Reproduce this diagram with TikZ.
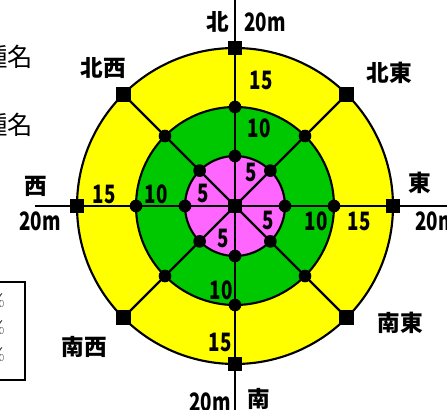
\documentclass[tikz,border=0pt]{standalone}
\usepackage{fontspec}
\newfontfamily\cjk{Noto Sans CJK JP}
\newfontfamily\cjkn{Noto Sans CJK JP}[FakeStretch=0.74]
\usetikzlibrary{calc}
\pgfdeclarelayer{bg}
\pgfdeclarelayer{mid}
\pgfsetlayers{bg,mid,main}
\definecolor{ringY}{RGB}{255,255,0}
\definecolor{ringG}{RGB}{0,200,0}
\definecolor{ringP}{RGB}{255,102,255}
\begin{document}
\begin{tikzpicture}[x=0.75pt,y=-0.75pt,
  ln/.style={line width=1.6pt},
  sqm/.style={rectangle,fill=black,minimum size=11pt,inner sep=0pt},
  dotm/.style={circle,fill=black,minimum size=9.5pt,inner sep=0pt},
  num/.style={font=\cjkn\bfseries\fontsize{19}{19}\selectfont,inner sep=0pt},
  kj/.style={font=\cjk\bfseries\fontsize{17}{17}\selectfont,inner sep=0pt},
  side/.style={font=\cjk\fontsize{19}{19}\selectfont,inner sep=0pt,anchor=east},
  pct/.style={font=\fontsize{13}{13}\selectfont,inner sep=0pt,anchor=east}]
\useasboundingbox (0,0) rectangle (447,410);
\clip (0,0) rectangle (447,410);
\node[sqm] (C) at (235,206) {};
\foreach \n/\a in {E/0,SE/45,S/90,SW/135,W/180,NW/225,N/270,NE/315}{
  \node[sqm] (\n20) at ([shift={(\a:158)}]C) {};
  \node[dotm] (\n10) at ([shift={(\a:99)}]C) {};
  \node[dotm] (\n5) at ([shift={(\a:50)}]C) {};
}
\begin{pgfonlayer}{bg}
  \draw[ln,fill=ringY] (C.center) circle[radius=158];
  \draw[ln,fill=ringG] (C.center) circle[radius=99];
  \draw[ln,fill=ringP] (C.center) circle[radius=50];
\end{pgfonlayer}
\coordinate (Ntip) at (235,-5);
\coordinate (Stip) at (235,415);
\coordinate (Wtip) at (35,206);
\coordinate (Etip) at (452,206);
\begin{pgfonlayer}{mid}
  \draw[ln] (Ntip) -- (N20.center) -- (N10.center) -- (N5.center) -- (C.center)
     -- (S5.center) -- (S10.center) -- (S20.center) -- (Stip);
  \draw[ln] (Wtip) -- (W20.center) -- (W10.center) -- (W5.center) -- (C.center)
     -- (E5.center) -- (E10.center) -- (E20.center) -- (Etip);
  \foreach \n in {NE,SE,SW,NW}{
    \draw[ln] (C.center) -- (\n5.center) -- (\n10.center) -- (\n20.center);
  }
\end{pgfonlayer}
% direction labels
\node[kj] (lN) at (218,22) {北};
\node[num] (mN) at (265,22) {20m};
\node[num] (n15) at (261,80) {15};
\node[num] (n10) at (259,128) {10};
\node[num] (p1) at (251,172) {5};
\node[num] (p2) at (203,193) {5};
\node[num] (p3) at (268,220) {5};
\node[num] (p4) at (223,238) {5};
\node[kj] (lW) at (36,186) {西};
\node[num] (mW) at (40,221) {20m};
\node[num] (w15) at (104,194) {15};
\node[num] (w10) at (156,194) {10};
\node[num] (e10) at (316,221) {10};
\node[num] (e15) at (359,221) {15};
\node[kj] (lE) at (420,183) {東};
\node[num,anchor=west] (mE) at (415,221) {20m};
\node[num] (s10) at (221,290) {10};
\node[num] (s15) at (220,342) {15};
\node[num] (mS) at (210,402) {20m};
\node[kj] (lS) at (259,399) {南};
\node[kj] (lNW) at (103,68) {北西};
\node[kj] (lNE) at (389,73) {北東};
\node[kj] (lSW) at (84,347) {南西};
\node[kj] (lSE) at (400,323) {南東};
% cut-off side texts
\node[side] (t1) at (33,57) {樹種名};
\node[side] (t2) at (33,125) {樹種名};
\draw[line width=0.9pt] (-20,282) rectangle (25,380);
\node[pct] (q1) at (5,300) {0\%};
\node[pct] (q2) at (5,327) {0\%};
\node[pct] (q3) at (5,354) {0\%};
\end{tikzpicture}
\end{document}
